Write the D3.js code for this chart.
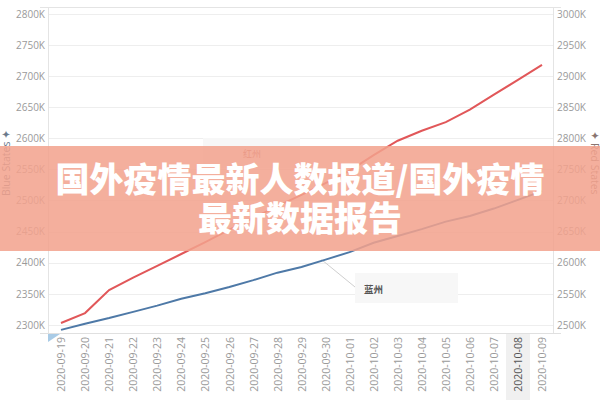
<!DOCTYPE html>
<html><head><meta charset="utf-8">
<script src="https://cdn.jsdelivr.net/npm/d3@7"></script>
<style>body{margin:0;background:#fff}svg{display:block}</style>
</head><body><svg id="c" width="600" height="400"></svg>
<script>
const dates = ["2020-09-19","2020-09-20","2020-09-21","2020-09-22","2020-09-23","2020-09-24","2020-09-25","2020-09-26","2020-09-27","2020-09-28","2020-09-29","2020-09-30","2020-10-01","2020-10-02","2020-10-03","2020-10-04","2020-10-05","2020-10-06","2020-10-07","2020-10-08","2020-10-09"];
// values in thousands
const blueStates = [2292,2302,2311,2321,2331,2342,2351,2361,2372,2384,2393,2405,2417,2432,2443,2454,2466,2475,2487,2501,2515];
const redStates = [2503,2519,2556,2576,2595,2614,2633,2653,2672,2691,2709,2728,2748,2773,2796,2812,2826,2846,2870,2894,2918];
const leftTicks = [2300,2350,2400,2450,2500,2550,2600,2650,2700,2750,2800];
const rightTicks = [2500,2550,2600,2650,2700,2750,2800,2850,2900,2950,3000];
const titleLines = ["国外疫情最新人数报道/国外疫情","最新数据报告"];
const highlightDate = "2020-10-08";

const svg = d3.select("#c");
const L = 48, R = 553, T = 7, B = 333;
const x = d3.scalePoint().domain(dates).range([61, 542]);
const yL = d3.scaleLinear().domain([2287, 2811]).range([B, T]);
const yR = d3.scaleLinear().domain([2487, 3011]).range([B, T]);
const tickFont = "'Open Sans', 'Noto Sans', sans-serif";

// highlight band
svg.append("rect").attr("x", x(highlightDate) - 12).attr("y", B).attr("width", 24).attr("height", 67).attr("fill", "#f0f0f0");

// gridlines
svg.append("g").selectAll("line").data(leftTicks).join("line")
  .attr("x1", L).attr("x2", R).attr("y1", d => Math.round(yL(d)) + 0.5).attr("y2", d => Math.round(yL(d)) + 0.5)
  .attr("stroke", "#eeeeee");
// frame
svg.append("line").attr("x1", L - 8).attr("x2", R + 8).attr("y1", T + 0.5).attr("y2", T + 0.5).attr("stroke", "#e4e4e4");
svg.append("line").attr("x1", L - 8).attr("x2", R + 8).attr("y1", B + 0.5).attr("y2", B + 0.5).attr("stroke", "#e0e0e0");
svg.append("line").attr("x1", L + 0.5).attr("x2", L + 0.5).attr("y1", T).attr("y2", B).attr("stroke", "#e4e4e4");
svg.append("line").attr("x1", R + 0.5).attr("x2", R + 0.5).attr("y1", T).attr("y2", B).attr("stroke", "#e4e4e4");

// left axis
const axL = d3.axisLeft(yL).tickValues(leftTicks).tickFormat(d => d + "K").tickSize(0).tickPadding(0);
const gL = svg.append("g").attr("transform", `translate(${L - 3},0)`).call(axL);
gL.select(".domain").remove();
gL.selectAll("text").attr("fill", "#9a9a9a").style("font-family", tickFont).style("font-size", "10px");

// right axis
const axR = d3.axisRight(yR).tickValues(rightTicks).tickFormat(d => d + "K").tickSize(0).tickPadding(0);
const gR = svg.append("g").attr("transform", `translate(${R + 4},0)`).call(axR);
gR.select(".domain").remove();
gR.selectAll("text").attr("fill", "#9a9a9a").style("font-family", tickFont).style("font-size", "10px");

// x axis labels
const axX = d3.axisBottom(x).tickSize(0).tickPadding(0);
const gX = svg.append("g").attr("transform", `translate(0,${B})`).call(axX);
gX.select(".domain").remove();
gX.selectAll("text")
  .attr("transform", "rotate(-90)")
  .attr("x", -4).attr("y", 0).attr("dy", "0.35em")
  .attr("text-anchor", "end")
  .attr("fill", d => d === highlightDate ? "#555" : "#9a9a9a")
  .style("font-family", tickFont).style("font-size", "10.5px");

// corner marker
svg.append("path").attr("d", `M${L},${B + 1} L${L + 12},${B + 1} L${L},${B + 9} Z`).attr("fill", "#a9cbe6");

// axis titles
svg.append("text").attr("transform", "translate(10,163) rotate(-90)").attr("text-anchor", "middle")
  .attr("fill", "#6b7a8c").style("font-family", tickFont).style("font-size", "10.5px").text("Blue States ✦");
svg.append("text").attr("transform", "translate(591,163) rotate(90)").attr("text-anchor", "middle")
  .attr("fill", "#8a7570").style("font-family", tickFont).style("font-size", "10.5px").text("✦ Red States");

// annotation boxes
svg.append("rect").attr("x", 203).attr("y", 138).attr("width", 97).attr("height", 30).attr("fill", "#f7f7f7");
svg.append("text").attr("x", 252).attr("y", 157).attr("text-anchor", "middle").attr("fill", "#b0605a")
  .style("font-family", "'Noto Sans CJK SC', sans-serif").style("font-size", "9px").text("红州");
svg.append("line").attr("x1", x("2020-09-29") + 20).attr("y1", yL(2405)).attr("x2", 355).attr("y2", 287).attr("stroke", "#cfcfcf");
svg.append("rect").attr("x", 355).attr("y", 273).attr("width", 103).attr("height", 30).attr("fill", "#f7f7f7");
svg.append("text").attr("x", 364).attr("y", 293).attr("fill", "#555")
  .style("font-family", "'Noto Sans CJK SC', sans-serif").style("font-size", "9.5px").style("font-weight", "bold").text("蓝州");

// lines
const lineL = d3.line().x((d, i) => x(dates[i])).y(d => yL(d));
const lineR = d3.line().x((d, i) => x(dates[i])).y(d => yR(d));
svg.append("path").datum(blueStates).attr("d", lineL).attr("fill", "none").attr("stroke", "#4e79a7").attr("stroke-width", 2);
svg.append("path").datum(redStates).attr("d", lineR).attr("fill", "none").attr("stroke", "#e15759").attr("stroke-width", 2);

// banner overlay
svg.append("rect").attr("x", 0).attr("y", 146).attr("width", 600).attr("height", 105)
  .attr("fill", "rgb(242,162,141)").attr("opacity", 0.86);
svg.selectAll(".title").data(titleLines).join("text")
  .attr("x", 300).attr("y", (d, i) => 192 + i * 39).attr("text-anchor", "middle")
  .attr("fill", "#fff").style("font-family", "'Noto Sans CJK SC', sans-serif")
  .style("font-size", "34px").style("font-weight", "900").text(d => d);
</script></body></html>
